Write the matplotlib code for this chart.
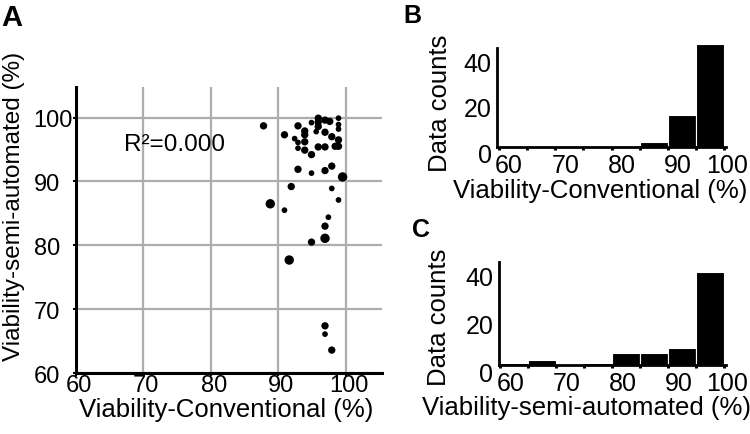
import numpy as np
import matplotlib
matplotlib.use("Agg")
import matplotlib.pyplot as plt
import matplotlib.transforms as mtransforms

plt.rcParams['font.family'] = ['Liberation Sans', 'DejaVu Sans']

# ---------------- data ----------------
# scatter (panel A): conventional vs semi-automated viability, n = overlapping samples
conv = [87.8, 90.9, 92.9, 92.4, 93.9, 93.9, 92.9, 93.9, 92.9, 93.9,
        94.9, 94.9, 95.9, 95.9, 95.9, 95.6, 96.9, 97.6, 96.9, 97.9,
        98.9, 98.9, 98.9, 98.9, 98.4, 98.9, 95.9, 96.9, 92.9, 94.9,
        96.9, 97.9, 99.5, 91.9, 97.9, 98.9, 88.8, 90.9, 97.4, 96.9,
        96.9, 94.9, 91.6, 96.9, 96.9, 97.9]
semi = [98.7, 97.3, 98.7, 96.7, 97.9, 97.3, 96.1, 96.2, 95.2, 94.9,
        99.2, 94.2, 99.9, 99.3, 98.6, 97.8, 99.6, 99.4, 97.7, 97.0,
        99.9, 98.9, 98.2, 96.5, 95.5, 95.5, 95.4, 95.4, 91.9, 91.3,
        91.7, 92.4, 90.7, 89.2, 88.9, 87.1, 86.5, 85.5, 84.4, 83.0,
        81.1, 80.5, 77.7, 67.4, 66.1, 63.6]
n_overlap = [2, 2, 2, 1, 2, 2, 1, 2, 1, 2,
             1, 2, 2, 2, 2, 1, 2, 2, 2, 2,
             1, 1, 1, 2, 2, 2, 2, 2, 2, 1,
             2, 2, 3, 2, 1, 1, 3, 1, 1, 2,
             3, 2, 3, 2, 1, 2]
r2_text = "R²=0.000"

# histograms (panels B, C)
bin_edges = [60, 65, 70, 75, 80, 85, 90, 95, 100]
counts_conv = [0, 0, 0, 0, 0, 2, 14, 45]
counts_semi = [1, 2, 0, 1, 5, 5, 7, 39]

# ---------------- figure ----------------
fig = plt.figure(figsize=(7.5, 4.35), dpi=100)

# ---- panel A: scatter
axA = fig.add_axes([0.101, 0.140, 0.408, 0.658])
size_map = {1: 17, 2: 28, 3: 46}
axA.scatter(conv, semi, s=[size_map[k] for k in n_overlap], color='black',
            linewidths=0, zorder=3)
axA.set_xlim(60, 105.3)
axA.set_ylim(60, 104.8)
axA.set_xticks([60, 70, 80, 90, 100])
axA.set_yticks([60, 70, 80, 90, 100])
axA.grid(True, color='#adadad', linewidth=1.6)
axA.set_axisbelow(True)
for s in ['top', 'right']:
    axA.spines[s].set_visible(False)
for s in ['left', 'bottom']:
    axA.spines[s].set_linewidth(2.2)
axA.tick_params(axis='both', labelsize=17, width=1.5, length=2.5)
axA.tick_params(axis='x', pad=-1.5)
axA.tick_params(axis='y', pad=0.5)
xoff = mtransforms.ScaledTranslation(3 / 100, 0, fig.dpi_scale_trans)
for lab in axA.xaxis.get_majorticklabels():
    lab.set_transform(lab.get_transform() + xoff)
# y tick labels are left-aligned in the original
yoffA = mtransforms.ScaledTranslation(-38 / 100, 0, fig.dpi_scale_trans)
for lab in axA.yaxis.get_majorticklabels():
    lab.set_horizontalalignment('left')
    lab.set_transform(lab.get_transform() + yoffA)
axA.text(67.1, 95.9, r2_text, fontsize=17.5, ha='left', va='center')
axA.set_xlabel("Viability-Conventional (%)", fontsize=18.5)
axA.set_ylabel("Viability-semi-automated (%)", fontsize=17.5)
axA.xaxis.set_label_coords(0.49, -0.085)
axA.yaxis.set_label_coords(-0.165, 0.587)
fig.text(0.002, 0.99, "A", fontsize=21, fontweight='bold', va='top', ha='left')


def hist_panel(ax, counts, xlabel, xlab_pos, ylab_pos):
    ax.bar(bin_edges[:-1], counts, width=5, align='edge', color='black',
           edgecolor='white', linewidth=0.8, zorder=2)
    ax.set_xlim(59.7, 100.3)
    ax.set_ylim(0, 47)
    ax.spines['left'].set_bounds(0, 43.3)
    for s in ['top', 'right']:
        ax.spines[s].set_visible(False)
    for s in ['left', 'bottom']:
        ax.spines[s].set_linewidth(2.0)
        ax.spines[s].set_zorder(3)
    ax.set_xticks([60, 70, 80, 90, 100])
    ax.set_xticks([65, 75, 85, 95], minor=True)
    ax.set_yticks([0, 20, 40])
    ax.tick_params(axis='x', which='both', labelsize=18, width=2.2, length=2.2, pad=2)
    ax.tick_params(axis='y', labelsize=18, length=0, pad=4)
    # tick labels sit a little off their ticks in the original
    yoff = mtransforms.ScaledTranslation(0, -6 / 100, fig.dpi_scale_trans)
    for lab in ax.yaxis.get_majorticklabels():
        lab.set_transform(lab.get_transform() + yoff)
    xlabs = ax.xaxis.get_majorticklabels()
    for i, lab in enumerate(xlabs):
        dx = 3 if i == len(xlabs) - 1 else 10
        lab.set_transform(lab.get_transform()
                          + mtransforms.ScaledTranslation(dx / 100, 0, fig.dpi_scale_trans))
    ax.set_xlabel(xlabel, fontsize=18.5)
    ax.set_ylabel("Data counts", fontsize=18.5)
    ax.xaxis.set_label_coords(*xlab_pos)
    ax.yaxis.set_label_coords(*ylab_pos)


# ---- panel B
axB = fig.add_axes([0.663, 0.660, 0.305, 0.248])
hist_panel(axB, counts_conv, "Viability-Conventional (%)", (0.449, -0.29), (-0.198, 0.417))
fig.text(0.538, 0.99, "B", fontsize=18, fontweight='bold', va='top', ha='left')

# ---- panel C
axC = fig.add_axes([0.665, 0.1586, 0.303, 0.2575])
hist_panel(axC, counts_semi, "Viability-semi-automated (%)", (0.384, -0.27), (-0.21, 0.433))
fig.text(0.549, 0.498, "C", fontsize=18, fontweight='bold', va='top', ha='left')

fig.savefig("out.png", dpi=100)
